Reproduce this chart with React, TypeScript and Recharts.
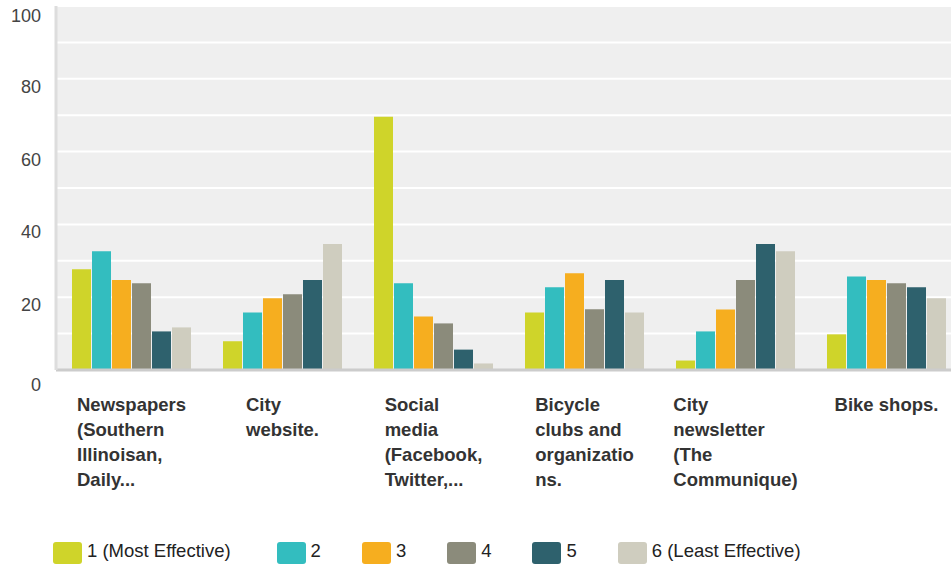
import { BarChart, Bar, XAxis, YAxis, CartesianGrid } from 'recharts'

const categories = [
  'Newspapers\n(Southern\nIllinoisan,\nDaily...',
  'City\nwebsite.',
  'Social\nmedia\n(Facebook,\nTwitter,...',
  'Bicycle\nclubs and\norganizatio\nns.',
  'City\nnewsletter\n(The\nCommunique)',
  'Bike shops.',
]

const seriesNames = ['1 (Most Effective)', '2', '3', '4', '5', '6 (Least Effective)']
const seriesColors = ['#cfd42a', '#33bdbf', '#f6ae1f', '#8b8b7b', '#2e616d', '#cfcdbf']

const rank1 = [27.7, 7.9, 69.6, 15.8, 2.6, 9.8]
const rank2 = [32.6, 15.8, 23.8, 22.7, 10.6, 25.7]
const rank3 = [24.7, 19.7, 14.7, 26.6, 16.6, 24.7]
const rank4 = [23.8, 20.8, 12.8, 16.7, 24.7, 23.8]
const rank5 = [10.6, 24.7, 5.6, 24.7, 34.6, 22.7]
const rank6 = [11.7, 34.6, 1.8, 15.8, 32.6, 19.7]

const yTicks = [0, 10, 20, 30, 40, 50, 60, 70, 80, 90, 100]

const allSeries = [rank1, rank2, rank3, rank4, rank5, rank6]
const data = categories.map((name, i) => {
  const row: Record<string, string | number> = { name }
  allSeries.forEach((s, k) => { row['r' + k] = s[i] })
  return row
})

const FONT = '"Liberation Sans", Arial, sans-serif'

let ctx: CanvasRenderingContext2D | null = null
const textWidth = (t: string, font: string) => {
  if (!ctx) ctx = document.createElement('canvas').getContext('2d')
  if (!ctx) return t.length * 9
  ctx.font = font
  return ctx.measureText(t).width
}

const XTick = (props: any) => {
  const { x, y, payload } = props
  const lines = String(payload.value).split('\n')
  const w = Math.max(...lines.map(l => textWidth(l, `bold 18.5px ${FONT}`)))
  return (
    <g>
      {lines.map((l, i) => (
        <text key={i} x={x - w / 2} y={y + 41 + i * 25} fill="#333" fontSize={18.5} fontWeight="bold" fontFamily={FONT}>
          {l}
        </text>
      ))}
    </g>
  )
}

const YTick = (props: any) => {
  const { x, y, payload } = props
  if (payload.value % 20 !== 0) return <g />
  const dy = payload.value === 0 ? 22 : payload.value === 100 ? 17 : 15
  return (
    <text x={x - 15} y={y + dy - 1} textAnchor="end" fill="#444" fontSize={18} fontFamily={FONT}>
      {payload.value}
    </text>
  )
}

// legend drawn as plain html under the plot
const LegendRow = () => (
  <div style={{ position: 'absolute', left: 53, top: 542, display: 'flex', fontFamily: FONT, fontSize: 18.5, color: '#222' }}>
    {seriesNames.map((n, i) => (
      <div key={n} style={{ display: 'flex', alignItems: 'flex-start', marginRight: i === 0 ? 46 : 41 }}>
        <div style={{ width: 29, height: 22, borderRadius: 3, background: seriesColors[i], marginRight: 5 }} />
        <span style={{ whiteSpace: 'nowrap', lineHeight: '19px', marginTop: -1 }}>{n}</span>
      </div>
    ))}
  </div>
)

export default function App() {
  return (
    <div style={{ position: 'absolute', left: 0, top: 0, width: 951, height: 564, overflow: 'hidden', background: '#fff' }}>
      <BarChart width={962} height={564} data={data} margin={{ top: 6, right: 0, left: 0, bottom: 0 }} barCategoryGap={16} barGap={1}>
        <CartesianGrid vertical={false} fill="#efefef" stroke="#ffffff" strokeWidth={2} />
        <XAxis dataKey="name" height={194} interval={0} tickLine={false} tickSize={0} tickMargin={0}
          axisLine={{ stroke: '#cccccc', strokeWidth: 3 }} tick={<XTick />} />
        <YAxis width={56} domain={[0, 100]} ticks={yTicks} interval={0} tickLine={false} tickSize={0} tickMargin={0}
          axisLine={{ stroke: '#dddddd', strokeWidth: 3 }} tick={<YTick />} />
        {seriesNames.map((n, k) => (
          <Bar key={n} dataKey={'r' + k} name={n} fill={seriesColors[k]} isAnimationActive={false} />
        ))}
      </BarChart>
      <LegendRow />
    </div>
  )
}
